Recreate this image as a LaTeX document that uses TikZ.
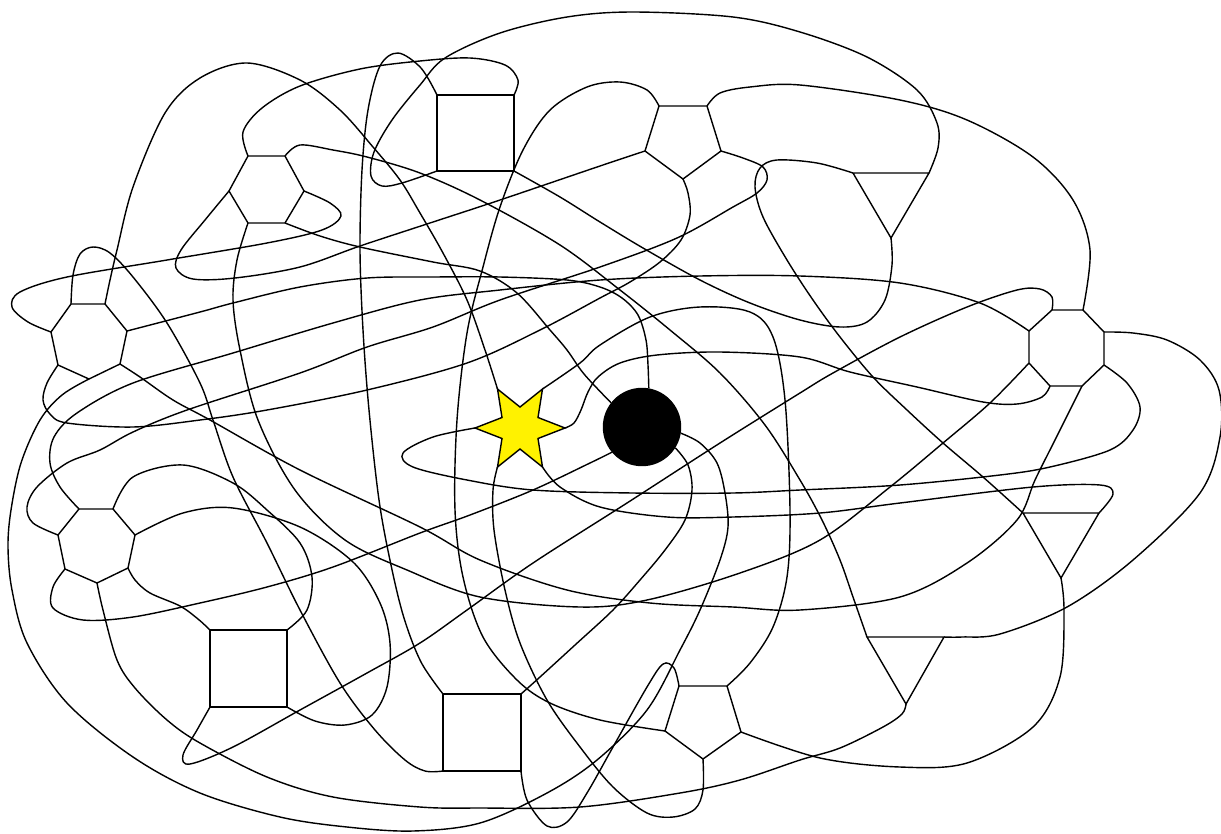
\documentclass[tikz,border=0pt]{standalone}
\usetikzlibrary{positioning}

\begin{document}
\begin{tikzpicture}[
    x=0.01cm, y=-0.01cm,
    poly/.style={draw, line join=miter},
    link/.style={draw, smooth, tension=0.55},
    hub/.style={
        circle,
        draw,
        fill=black,
        minimum size=0.77cm,
        inner sep=0pt
    },
    starbox/.style={draw, fill=yellow, line join=miter}
]
\useasboundingbox (0,0) rectangle (1221,833);

% Polygon corners
\coordinate (h1tl) at (248,156); \coordinate (h1tr) at (285,156); \coordinate (h1r) at (304,191);
\coordinate (h1br) at (285,223); \coordinate (h1bl) at (248,223); \coordinate (h1l) at (229,191);

\coordinate (p1a) at (71,304); \coordinate (p1b) at (105,304); \coordinate (p1c) at (127,331);
\coordinate (p1d) at (120,364); \coordinate (p1e) at (89,379); \coordinate (p1f) at (58,365);
\coordinate (p1g) at (51,332);

\coordinate (s1tl) at (437,95); \coordinate (s1tr) at (514,95);
\coordinate (s1br) at (514,171); \coordinate (s1bl) at (437,171);

\coordinate (p2tl) at (659,106); \coordinate (p2tr) at (707,106); \coordinate (p2r) at (721,151);
\coordinate (p2b) at (683,179); \coordinate (p2l) at (645,151);

\coordinate (t1tl) at (853,173); \coordinate (t1tr) at (929,173); \coordinate (t1b) at (891,238);

\coordinate (o1a) at (1052,310); \coordinate (o1b) at (1083,310); \coordinate (o1c) at (1104,332);
\coordinate (o1d) at (1104,365); \coordinate (o1e) at (1082,386); \coordinate (o1f) at (1050,386);
\coordinate (o1g) at (1029,363); \coordinate (o1h) at (1029,331);

\coordinate (h2a) at (79,509); \coordinate (h2b) at (113,509); \coordinate (h2c) at (135,535);
\coordinate (h2d) at (128,568); \coordinate (h2e) at (97,583); \coordinate (h2f) at (65,569);
\coordinate (h2g) at (58,535);

\coordinate (s2tl) at (210,630); \coordinate (s2tr) at (287,630);
\coordinate (s2br) at (287,707); \coordinate (s2bl) at (210,707);

\coordinate (s3tl) at (443,694); \coordinate (s3tr) at (521,694);
\coordinate (s3br) at (521,771); \coordinate (s3bl) at (443,771);

\coordinate (p3tl) at (679,686); \coordinate (p3tr) at (727,686); \coordinate (p3r) at (741,732);
\coordinate (p3b) at (703,759); \coordinate (p3l) at (665,731);

\coordinate (t2tl) at (1023,513); \coordinate (t2tr) at (1099,513); \coordinate (t2b) at (1061,578);
\coordinate (t3tl) at (867,637); \coordinate (t3tr) at (944,637); \coordinate (t3b) at (906,704);

% Star corners
\coordinate (st0) at (565,428); \coordinate (st60) at (542.5,389); \coordinate (st120) at (497.5,389);
\coordinate (st180) at (475,428); \coordinate (st240) at (497.5,467); \coordinate (st300) at (542.5,467);
\coordinate (si30) at (538,417.5); \coordinate (si90) at (520,407); \coordinate (si150) at (502,417.5);
\coordinate (si210) at (502,438.5); \coordinate (si270) at (520,449); \coordinate (si330) at (538,438.5);

% Hub
\node[hub] (circ) at (642,427) {};

% Links
\draw[link] plot coordinates {(s1tl) (421,68) (398,53) (380,66) (368,110) (362,170) (360,250) (363,330) (369,410) (379,500) (391,565) (404,618) (421,662) (s3tl)};
\draw[link] plot coordinates {(s1tr) (518,80) (505,65) (470,58) (420,61) (360,69) (300,86) (262,108) (243,132) (h1tl)};
\draw[link] plot coordinates {(s1bl) (402,183) (382,186) (371,176) (374,152) (392,120) (420,85) (445,58) (500,33) (567,17) (633,12) (733,17) (800,32) (867,57) (917,90) (937,123) (938,148) (t1tr)};
\draw[link] plot coordinates {(s1br) (560,197) (600,222) (643,248) (700,280) (750,303) (800,320) (840,327) (867,322) (885,300) (892,265) (t1b)};
\draw[link] plot coordinates {(h1l) (205,220) (181,250) (176,268) (193,279) (235,278) (300,267) (360,246) (433,222) (500,200) (600,166) (p2l)};
\draw[link] plot coordinates {(h1r) (330,203) (341,216) (322,230) (267,243) (167,260) (67,277) (20,292) (12,307) (28,322) (p1g)};
\draw[link] plot coordinates {(p1b) (110,280) (117,250) (133,187) (165,113) (200,78) (247,63) (300,80) (340,110) (373,147) (400,180) (420,213) (443,253) (467,300) (485,350) (st120)};
\draw[link] plot coordinates {(o1d) (1127,383) (1140,407) (1133,430) (1110,450) (1050,467) (1000,475) (900,485) (800,490) (733,493) (633,493) (533,490) (467,480) (413,467) (403,453) (433,437) (st180)};
\draw[link] plot coordinates {(st0) (574,423) (581,410) (588,392) (598,377) (620,363) (657,355) (720,352) (800,357) (850,372) (917,387) (983,402) (1017,404) (1042,397) (o1f)};
\draw[link] plot coordinates {(h1bl) (237,260) (233,300) (240,350) (258,420) (295,490) (345,540) (407,570) (480,597) (580,607) (647,600) (740,573) (820,540) (890,487) (943,443) (990,403) (o1g)};
\draw[link] plot coordinates {(p1c) (200,312) (233,303) (300,287) (367,278) (433,277) (500,277) (567,280) (600,287) (622,298) (638,315) (646,340) (648,365) (circ.80)};
\draw[link] plot coordinates {(p1a) (73,275) (80,254) (93,247) (110,253) (133,277) (167,323) (200,383) (213,420) (233,477) (267,543) (300,610) (340,683) (375,730) (405,760) (425,771) (s3bl)};
\draw[link] plot coordinates {(p1d) (140,377) (173,400) (210,420) (300,470) (420,527) (480,560) (567,590) (650,603) (733,607) (800,610) (900,597) (967,563) (1017,520) (1035,480) (1055,440) (1070,410) (o1e)};
\draw[link] plot coordinates {(h2e) (103,610) (117,660) (135,688) (167,720) (200,743) (267,777) (333,797) (420,807) (480,808) (580,807) (680,793) (740,780) (800,760) (840,748) (883,727) (902,714) (t3b)};
\draw[link] plot coordinates {(t1tl) (817,163) (777,160) (760,168) (755,187) (763,217) (787,260) (813,300) (840,337) (873,377) (907,410) (943,443) (983,477) (t2tl)};
\draw[link] plot coordinates {(st300) (560,487) (600,507) (667,517) (733,517) (820,513) (900,503) (1033,487) (1100,485) (1113,494) (t2tr)};
\draw[link] plot coordinates {(p3r) (820,758) (900,767) (967,763) (1033,727) (1060,677) (1064,610) (t2b)};
\draw[link] plot coordinates {(s2bl) (197,730) (183,755) (190,764) (233,747) (300,710) (367,673) (420,643) (467,610) (533,563) (627,503) (720,443) (800,393) (833,373) (900,337) (967,307) (1017,290) (1040,289) (1052,297) (o1a)};
\draw[link] plot coordinates {(s2tr) (307,610) (312,577) (300,543) (267,510) (233,483) (183,465) (133,477) (h2b)};
\draw[link] plot coordinates {(s2tl) (198,619) (180,606) (150,593) (135,580) (h2d)};
\draw[link] plot coordinates {(s2br) (315,721) (345,725) (372,715) (387,687) (390,643) (380,603) (353,562) (300,527) (233,508) (183,513) (h2c)};
\draw[link] plot coordinates {(h2a) (60,487) (50,463) (54,437) (77,413) (133,383) (233,353) (333,323) (420,300) (500,290) (600,280) (700,276) (800,276) (900,283) (980,303) (o1h)};
\draw[link] plot coordinates {(h2g) (33,523) (27,507) (37,487) (67,463) (100,450) (133,432) (187,410) (300,373) (367,347) (433,327) (500,300) (600,267) (677,238) (733,207) (757,193) (767,180) (763,167) (743,158) (p2r)};
\draw[link] plot coordinates {(p1f) (47,383) (43,400) (50,414) (67,423) (133,427) (200,420) (267,410) (367,390) (467,363) (540,330) (600,298) (630,282) (660,262) (681,240) (690,215) (688,193) (p2b)};
\draw[link] plot coordinates {(p2tl) (647,90) (620,82) (587,87) (550,110) (523,150) (500,207) (483,267) (467,333) (457,420) (455,510) (463,577) (483,637) (517,680) (550,703) (600,720) (p3l)};
\draw[link] plot coordinates {(p2tr) (720,93) (750,87) (800,85) (900,100) (967,120) (1033,157) (1073,200) (1090,250) (o1b)};
\draw[link] plot coordinates {(o1c) (1133,333) (1167,340) (1200,360) (1219,390) (1220,437) (1200,493) (1133,560) (1067,607) (1000,634) (962,637) (t3tr)};
\draw[link] plot coordinates {(s3br) (527,800) (547,826) (567,822) (587,793) (613,747) (647,687) (663,664) (674,668) (p3tl)};
\draw[link] plot coordinates {(p3b) (703,790) (695,809) (673,817) (647,813) (613,787) (580,747) (547,700) (520,643) (505,590) (494,530) (493,490) (st240)};
\draw[link] plot coordinates {(h1br) (320,236) (360,247) (433,262) (480,271) (517,293) (550,330) (567,350) (584,374) (circ.142)};
\draw[link] plot coordinates {(st60) (580,363) (600,345) (650,317) (700,307) (750,312) (773,337) (785,400) (790,510) (787,577) (773,627) (750,663) (p3tr)};
\draw[link] plot coordinates {(circ.351) (700,443) (717,463) (725,493) (728,527) (720,560) (700,610) (680,650) (647,710) (597,760) (547,793) (480,823) (413,831) (347,827) (280,817) (200,793) (133,757) (67,703) (27,643) (12,590) (8,547) (11,510) (21,463) (40,420) (62,395) (p1e)};
\draw[link] plot coordinates {(h2f) (53,587) (53,608) (83,620) (133,617) (200,603) (267,587) (333,567) (420,533) (470,515) (533,490) (590,463) (circ.220)};
\draw[link] plot coordinates {(h1tr) (300,145) (333,150) (367,157) (420,173) (480,200) (560,245) (620,290) (670,330) (720,373) (765,425) (800,480) (822,520) (840,560) (853,597) (t3tl)};
\draw[link] plot coordinates {(circ.328) (688,465) (692,490) (685,520) (665,550) (640,580) (613,610) (575,645) (540,677) (s3tr)};

% Polygons
\draw[poly] (h1tl) -- (h1tr) -- (h1r) -- (h1br) -- (h1bl) -- (h1l) -- cycle;
\draw[poly] (p1a) -- (p1b) -- (p1c) -- (p1d) -- (p1e) -- (p1f) -- (p1g) -- cycle;
\draw[poly] (s1tl) -- (s1tr) -- (s1br) -- (s1bl) -- cycle;
\draw[poly] (p2tl) -- (p2tr) -- (p2r) -- (p2b) -- (p2l) -- cycle;
\draw[poly] (t1tl) -- (t1tr) -- (t1b) -- cycle;
\draw[poly] (o1a) -- (o1b) -- (o1c) -- (o1d) -- (o1e) -- (o1f) -- (o1g) -- (o1h) -- cycle;
\draw[poly] (h2a) -- (h2b) -- (h2c) -- (h2d) -- (h2e) -- (h2f) -- (h2g) -- cycle;
\draw[poly] (s2tl) -- (s2tr) -- (s2br) -- (s2bl) -- cycle;
\draw[poly] (s3tl) -- (s3tr) -- (s3br) -- (s3bl) -- cycle;
\draw[poly] (p3tl) -- (p3tr) -- (p3r) -- (p3b) -- (p3l) -- cycle;
\draw[poly] (t2tl) -- (t2tr) -- (t2b) -- cycle;
\draw[poly] (t3tl) -- (t3tr) -- (t3b) -- cycle;

% Star
\draw[starbox] (st0) -- (si30) -- (st60) -- (si90) -- (st120) -- (si150) -- (st180)
    -- (si210) -- (st240) -- (si270) -- (st300) -- (si330) -- cycle;

\end{tikzpicture}
\end{document}
